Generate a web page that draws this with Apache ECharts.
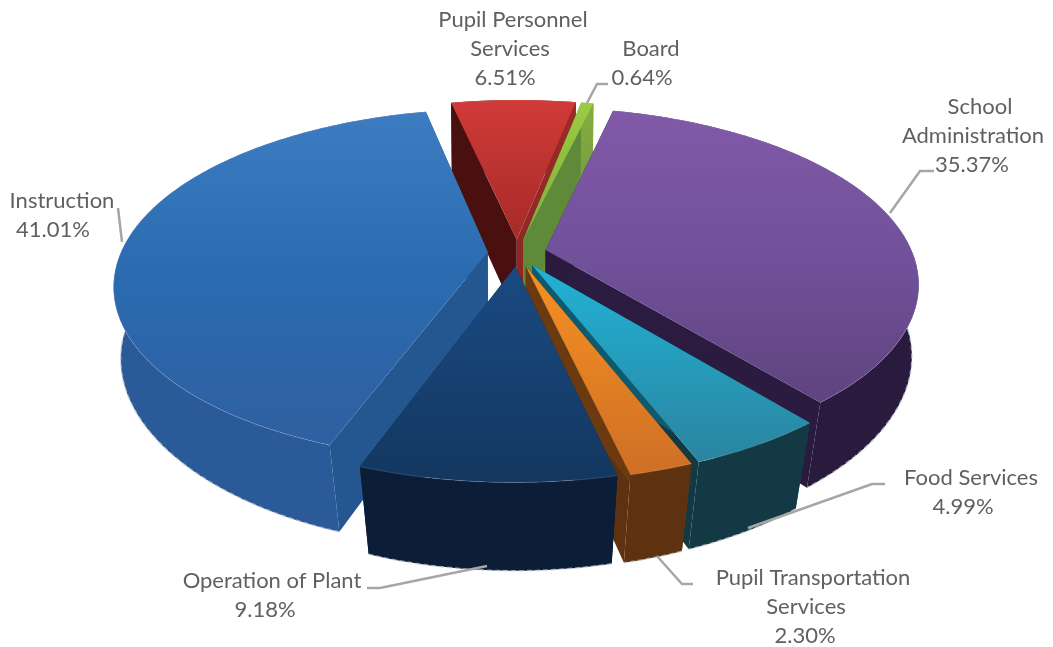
<!DOCTYPE html>
<html>
<head>
<meta charset="utf-8">
<style>
  html, body { margin: 0; padding: 0; background: #fff; }
  #main { width: 1053px; height: 647px; }
</style>
<script src="https://cdn.jsdelivr.net/npm/echarts@6/dist/echarts.min.js"></script>
</head>
<body>
<div id="main"></div>
<script>
// values, clockwise from the top
const categories = ['Board', 'School Administration', 'Food Services', 'Pupil Transportation Services', 'Operation of Plant', 'Instruction', 'Pupil Personnel Services']
const shares = [0.64, 35.37, 4.99, 2.30, 9.18, 41.01, 6.51]

const labelLines = [
  ['Board'],
  ['School', 'Administration'],
  ['Food Services'],
  ['Pupil Transportation', 'Services'],
  ['Operation of Plant'],
  ['Instruction'],
  ['Pupil Personnel', 'Services'],
]
// centre x of every label line (percent line last) and y of the first line
const labelX = [[651, 642], [980, 973, 972], [971, 963], [813, 806, 805], [272, 265], [62, 53], [513, 510, 505]]
const labelY = [49, 107, 478, 578, 581, 201, 20]
const leaders = [
  [[608, 84], [597, 84], [587, 103]],
  [[890, 213], [920, 171], [934, 171]],
  [[885, 484], [872, 484], [748, 528]],
  [[693, 584], [682, 584], [657, 556]],
  [[367, 588], [380, 588], [487, 566]],
  [[118, 208], [122, 242]],
  [],
]

// top gradient, outer wall, start-edge wall, end-edge wall
const sliceColors = [
  { top: ['#9ccb43', '#7fae3c'], wall: '#7aa33c', start: '#5f8a3a', end: ['#84ad3e', '#5f8a3e'] },
  { top: ['#8159a8', '#71519a', '#5f437f'], wall: '#2a1a3e', start: '#2a1a3e', end: ['#2c1c42', '#2a1a3e'] },
  { top: ['#20b3d6', '#2b84a0'], wall: '#133a44', start: '#0f5a6c', end: ['#133a44', '#133a44'] },
  { top: ['#f69122', '#cf6f26'], wall: '#5e3210', start: '#6b3a10', end: ['#5e3210', '#5e3210'] },
  { top: ['#1a4a82', '#133760'], wall: '#0c1d38', start: '#0c1d38', end: ['#0c1d38', '#0c1d38'] },
  { top: ['#3d7cc0', '#2a6bb0', '#2f5fa0'], wall: '#2a5a98', start: '#24578f', end: ['#24578f', '#24578f'] },
  { top: ['#d03b38', '#a62a28'], wall: '#4a1010', start: '#4a1010', end: ['#9a2b28', '#8a2624'] },
]

// painted back to front
const drawOrder = [6, 0, 1, 5, 2, 3, 4]

const startAngle = 11.1
const cx = 517
const cy = 253
const rx = 367
const ry = 170
const persp = 0.185
const explode = 0.08
const depth = 79

const total = shares.reduce((a, b) => a + b, 0)

function project(X, Y, bottom) {
  const p = 1 / (1 - persp * Y)
  let x = cx + rx * X * p
  let y = cy + ry * Y * p
  if (bottom) {
    x = cx + (x - cx) * (0.99 - 0.045 * Math.max(0, Y))
    y += depth * Math.sqrt(p)
  }
  return [x, y]
}

function sliceGeometry(index) {
  let before = 0
  for (let i = 0; i < index; i++) before += shares[i]
  const a0 = startAngle + (before / total) * 360
  const a1 = a0 + (shares[index] / total) * 360
  const mid = ((a0 + a1) / 2) * Math.PI / 180
  const ox = explode * Math.sin(mid)
  const oy = -explode * Math.cos(mid)
  const top = []
  const bot = []
  const steps = Math.max(4, Math.ceil(a1 - a0))
  for (let s = 0; s <= steps; s++) {
    const a = (a0 + ((a1 - a0) * s) / steps) * Math.PI / 180
    top.push(project(ox + Math.sin(a), oy - Math.cos(a), false))
    bot.push(project(ox + Math.sin(a), oy - Math.cos(a), true))
  }
  return {
    top,
    bot,
    front: Math.cos(mid) < -0.5,
    apexTop: project(ox, oy, false),
    apexBot: project(ox, oy, true),
  }
}

function vGrad(c) {
  return {
    type: 'linear', x: 0, y: 0, x2: 0, y2: 1,
    colorStops: c.map((color, i) => ({ offset: i / (c.length - 1), color })),
  }
}

function renderSlice(params) {
  const index = drawOrder[params.dataIndex]
  const g = sliceGeometry(index)
  const c = sliceColors[index]
  const n = g.top.length - 1
  const radial = [
    { type: 'polygon', shape: { points: [g.apexTop, g.top[n], g.bot[n], g.apexBot] }, style: { fill: vGrad(c.end) } },
    { type: 'polygon', shape: { points: [g.apexTop, g.top[0], g.bot[0], g.apexBot] }, style: { fill: c.start } },
  ]
  const outer = [
    { type: 'polygon', shape: { points: g.top.concat(g.bot.slice().reverse()) }, style: { fill: c.wall } },
    { type: 'polyline', shape: { points: g.bot }, style: { fill: 'none', stroke: 'rgba(190,200,210,0.7)', lineWidth: 1.5, lineDash: [5, 3] } },
  ]
  const walls = g.front ? radial.concat(outer) : outer.concat(radial)
  return {
    type: 'group',
    children: walls.concat([
      { type: 'polygon', shape: { points: [g.apexTop].concat(g.top) }, style: { fill: vGrad(c.top) } },
      { type: 'polyline', shape: { points: g.top }, style: { fill: 'none', stroke: 'rgba(255,255,255,0.15)', lineWidth: 1 } },
    ]),
  }
}

function renderLabel(params) {
  const index = params.dataIndex
  const children = []
  const lines = labelLines[index].concat(shares[index].toFixed(2) + '%')
  lines.forEach((line, i) => {
    children.push({
      type: 'text',
      style: {
        text: line,
        x: labelX[index][i],
        y: labelY[index] + i * 29,
        align: 'center',
        verticalAlign: 'middle',
        fill: '#606060',
        font: '22px Lato',
      },
    })
  })
  if (leaders[index].length) {
    children.push({
      type: 'polyline',
      shape: { points: leaders[index] },
      style: { fill: 'none', stroke: '#a6a6a6', lineWidth: 2.5 },
    })
  }
  return { type: 'group', children }
}

const chart = echarts.init(document.getElementById('main'))
chart.setOption({
  animation: false,
  series: [
    {
      type: 'custom',
      coordinateSystem: 'none',
      renderItem: renderSlice,
      silent: true,
      z: 2,
      data: drawOrder.map((i) => ({ name: categories[i], value: shares[i] })),
    },
    {
      type: 'custom',
      coordinateSystem: 'none',
      renderItem: renderLabel,
      silent: true,
      z: 3,
      data: categories.map((name, i) => ({ name, value: shares[i] })),
    },
  ],
})
</script>
</body>
</html>
